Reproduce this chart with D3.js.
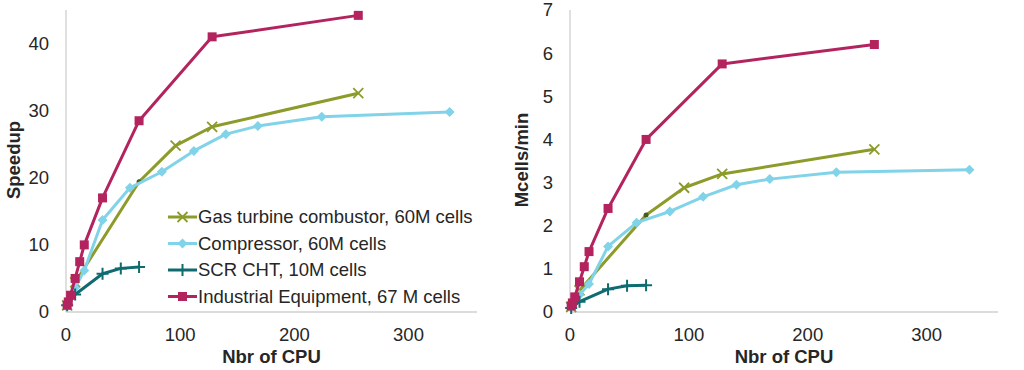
<!DOCTYPE html>
<html>
<head>
<meta charset="utf-8">
<script src="https://cdn.jsdelivr.net/npm/d3@7"></script>
<style>
  body { margin: 0; background: #fff; }
  text { font-family: "Liberation Sans", Arial, sans-serif; fill: #262626; }
</style>
</head>
<body>
<svg width="1024" height="370"></svg>
<script>
// series names (legend order)
var seriesNames = ["Gas turbine combustor, 60M cells", "Compressor, 60M cells",
                   "SCR CHT, 10M cells", "Industrial Equipment, 67 M cells"];

// CPU counts per series
var gasCpu = [1, 8, 64, 96, 128, 256];
var compCpu = [1, 8, 16, 32, 56, 84, 112, 140, 168, 224, 336];
var scrCpu = [1, 8, 32, 48, 64];
var indCpu = [1, 2, 4, 8, 12, 16, 32, 64, 128, 256];

// speedup values (left chart)
var gasSpeedup = [1, 4.4, 19.4, 24.8, 27.6, 32.6];
var compSpeedup = [1, 3.6, 6.2, 13.7, 18.5, 20.9, 24.0, 26.5, 27.7, 29.1, 29.8];
var scrSpeedup = [1, 2.6, 5.7, 6.5, 6.7];
var indSpeedup = [1, 1.5, 2.5, 5.0, 7.5, 10.0, 17.0, 28.5, 41.0, 44.2];

// Mcells/min values (right chart)
var gasRate = [0.116, 0.5, 2.25, 2.88, 3.2, 3.77];
var compRate = [0.11, 0.4, 0.65, 1.52, 2.07, 2.33, 2.67, 2.95, 3.08, 3.24, 3.3];
var scrRate = [0.09, 0.24, 0.53, 0.61, 0.62];
var indRate = [0.14, 0.21, 0.35, 0.7, 1.05, 1.4, 2.4, 4.0, 5.75, 6.2];

var leftTicks = [0, 10, 20, 30, 40];
var rightTicks = [0, 1, 2, 3, 4, 5, 6, 7];
var xTicks = [0, 100, 200, 300];

var colors = ["#8c9b2a", "#80d3e8", "#0f6b70", "#b3245f"];
var markers = ["x", "diamond", "plus", "square"];

var svg = d3.select("svg");

function zip(xs, ys) { return xs.map(function(x, i) { return [x, ys[i]]; }); }

var leftSeries = [zip(gasCpu, gasSpeedup), zip(compCpu, compSpeedup), zip(scrCpu, scrSpeedup), zip(indCpu, indSpeedup)];
var rightSeries = [zip(gasCpu, gasRate), zip(compCpu, compRate), zip(scrCpu, scrRate), zip(indCpu, indRate)];

function drawMarker(g, type, color, x, y) {
  if (type == "square") {
    g.append("rect").attr("x", x - 4.5).attr("y", y - 4.5).attr("width", 9).attr("height", 9).attr("fill", color);
  } else if (type == "diamond") {
    g.append("path").attr("d", "M" + x + "," + (y - 5) + "L" + (x + 5) + "," + y + "L" + x + "," + (y + 5) + "L" + (x - 5) + "," + y + "Z")
     .attr("fill", color);
  } else if (type == "x") {
    g.append("path").attr("d", "M" + (x - 5) + "," + (y - 5) + "L" + (x + 5) + "," + (y + 5) + "M" + (x - 5) + "," + (y + 5) + "L" + (x + 5) + "," + (y - 5))
     .attr("stroke", color).attr("stroke-width", 1.8).attr("fill", "none");
  } else if (type == "plus") {
    g.append("path").attr("d", "M" + (x - 6) + "," + y + "L" + (x + 6) + "," + y + "M" + x + "," + (y - 6) + "L" + x + "," + (y + 6))
     .attr("stroke", color).attr("stroke-width", 2).attr("fill", "none");
  }
}

function chart(opts) {
  var x = d3.scaleLinear().domain([0, 360]).range([opts.left, opts.right]);
  var y = d3.scaleLinear().domain([0, opts.ymax]).range([312, 10]);
  var g = svg.append("g");

  // axis lines
  g.append("line").attr("x1", x(0)).attr("x2", x(0)).attr("y1", y(0)).attr("y2", y(opts.ymax))
   .attr("stroke", "#d0d0d0").attr("stroke-width", 1.3);
  g.append("line").attr("x1", x(0)).attr("x2", x(360)).attr("y1", y(0)).attr("y2", y(0))
   .attr("stroke", "#d0d0d0").attr("stroke-width", 1.3);

  // tick labels
  g.selectAll(".yt").data(opts.yticks).enter().append("text")
   .attr("x", x(0) - 17).attr("y", function(d) { return y(d); }).attr("dy", "0.35em")
   .attr("text-anchor", "end").style("font-size", "18.5px").text(function(d) { return d; });
  g.selectAll(".xt").data(xTicks).enter().append("text")
   .attr("x", function(d) { return x(d); }).attr("y", 341)
   .attr("text-anchor", "middle").style("font-size", "18.5px").text(function(d) { return d; });

  // titles
  g.append("text").attr("x", (opts.left + opts.right) / 2).attr("y", 363).attr("text-anchor", "middle")
   .style("font-size", "18.5px").style("font-weight", "bold").text("Nbr of CPU");
  g.append("text").attr("transform", "translate(" + opts.titleX + ",160) rotate(-90)")
   .attr("text-anchor", "middle").style("font-size", "18.5px").style("font-weight", "bold").text(opts.ytitle);

  var line = d3.line().x(function(d) { return x(d[0]); }).y(function(d) { return y(d[1]); });

  opts.series.forEach(function(s, i) {
    g.append("path").datum(s).attr("d", line).attr("fill", "none")
     .attr("stroke", colors[i]).attr("stroke-width", 3).attr("stroke-linejoin", "round");
    s.forEach(function(p) {
      // the 64-CPU gas turbine point shows as a small dark dot
      if (i == 0 && p[0] == 64) {
        g.append("circle").attr("cx", x(p[0])).attr("cy", y(p[1])).attr("r", 2.5).attr("fill", "#4a5a18");
      } else {
        drawMarker(g, markers[i], colors[i], x(p[0]), y(p[1]));
      }
    });
  });
}

chart({ left: 66, right: 477, ymax: 45, yticks: leftTicks, ytitle: "Speedup", titleX: 20, series: leftSeries });
chart({ left: 570, right: 998, ymax: 7, yticks: rightTicks, ytitle: "Mcells/min", titleX: 528, series: rightSeries });

// legend
var legend = svg.append("g");
seriesNames.forEach(function(name, i) {
  var ly = 217 + i * 26.5;
  legend.append("line").attr("x1", 168).attr("x2", 197).attr("y1", ly).attr("y2", ly)
        .attr("stroke", colors[i]).attr("stroke-width", 3);
  drawMarker(legend, markers[i], colors[i], 182.5, ly);
  legend.append("text").attr("x", 198).attr("y", ly).attr("dy", "0.35em")
        .style("font-size", "18.5px").text(name);
});
</script>
</body>
</html>
